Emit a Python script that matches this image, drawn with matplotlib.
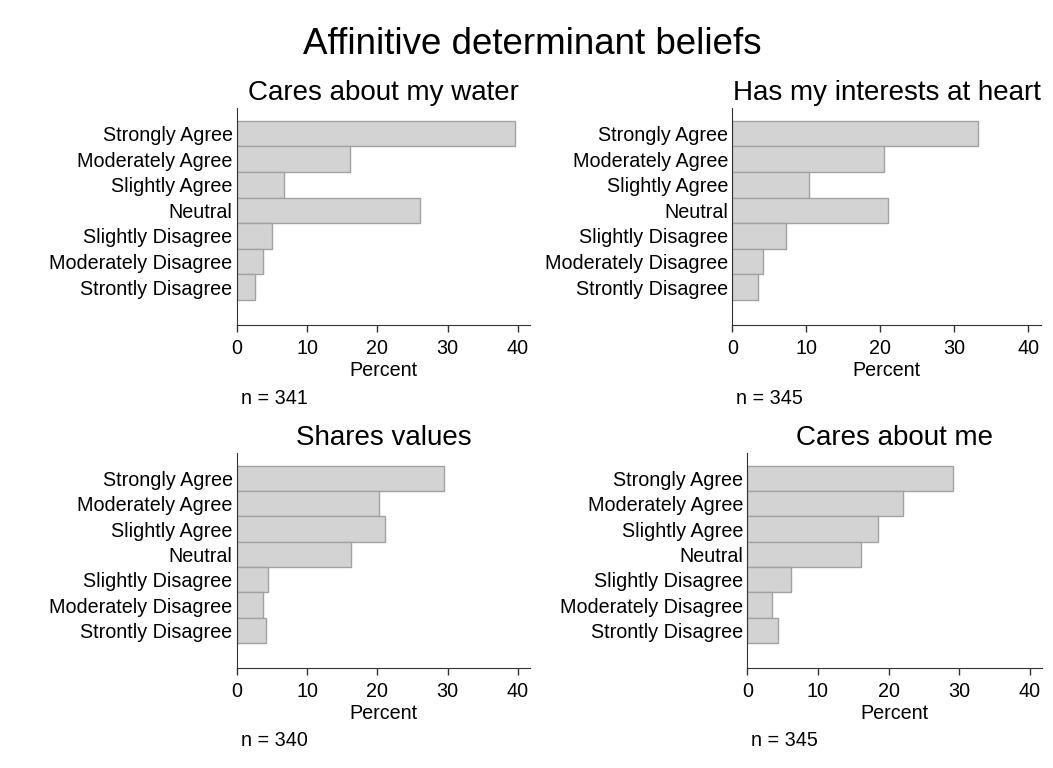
import matplotlib
matplotlib.use("Agg")
import matplotlib.pyplot as plt

plt.rcParams['font.family'] = ['Liberation Sans', 'DejaVu Sans']

categories = ["Strongly Agree", "Moderately Agree", "Slightly Agree", "Neutral",
              "Slightly Disagree", "Moderately Disagree", "Strontly Disagree"]

titles = ["Cares about my water", "Has my interests at heart",
          "Shares values", "Cares about me"]
n_counts = [341, 345, 340, 345]

water = [39.5, 16.1, 6.7, 26.1, 5.0, 3.8, 2.6]
interests = [33.2, 20.5, 10.4, 21.0, 7.3, 4.1, 3.5]
values = [29.5, 20.2, 21.1, 16.3, 4.4, 3.8, 4.1]
me = [29.1, 22.0, 18.5, 16.1, 6.2, 3.5, 4.3]
series = [water, interests, values, me]

W, H = 1053, 768
fig = plt.figure(figsize=(W / 100, H / 100), dpi=100)

# axes boxes in pixels: left, right, top, bottom, y of the n note
boxes = [(236.7, 530, 108, 325, 398),
         (732.3, 1041, 108, 325, 398),
         (236.7, 530, 453, 668, 741),
         (747.3, 1042, 453, 668, 741)]

fig.text(0.5 + 6 / W, 1 - 45 / H, "Affinitive determinant beliefs", ha="center", va="center", fontsize=26.5)

pos = list(range(len(categories), 0, -1))

for k in range(4):
    l, r, t, b, ny = boxes[k]
    ax = fig.add_axes([l / W, 1 - b / H, (r - l) / W, (b - t) / H])
    ax.barh(pos, series[k], height=1.0, color="#d3d3d3", edgecolor="#a2a2a2", linewidth=1.0)
    ax.set_xlim(0, 41.7)
    ax.set_ylim(-0.48, 8.0)
    ax.set_yticks(pos)
    ax.set_yticklabels(categories, fontsize=14.2)
    ax.tick_params(axis="y", length=0, pad=3)
    ax.set_xticks([0, 10, 20, 30, 40])
    ax.tick_params(axis="x", labelsize=14.2, length=5, width=1, direction="out", pad=5, color="#333333")
    ax.spines["top"].set_visible(False)
    ax.spines["right"].set_visible(False)
    ax.spines["left"].set_color("#333333")
    ax.spines["bottom"].set_color("#333333")
    ax.set_xlabel("Percent", fontsize=14.2, labelpad=2)
    ax.set_title(titles[k], fontsize=20, pad=6)
    fig.text((l + 4) / W, 1 - ny / H, "n = %d" % n_counts[k], ha="left", va="center", fontsize=14.2)

fig.savefig("out.png", dpi=100)
